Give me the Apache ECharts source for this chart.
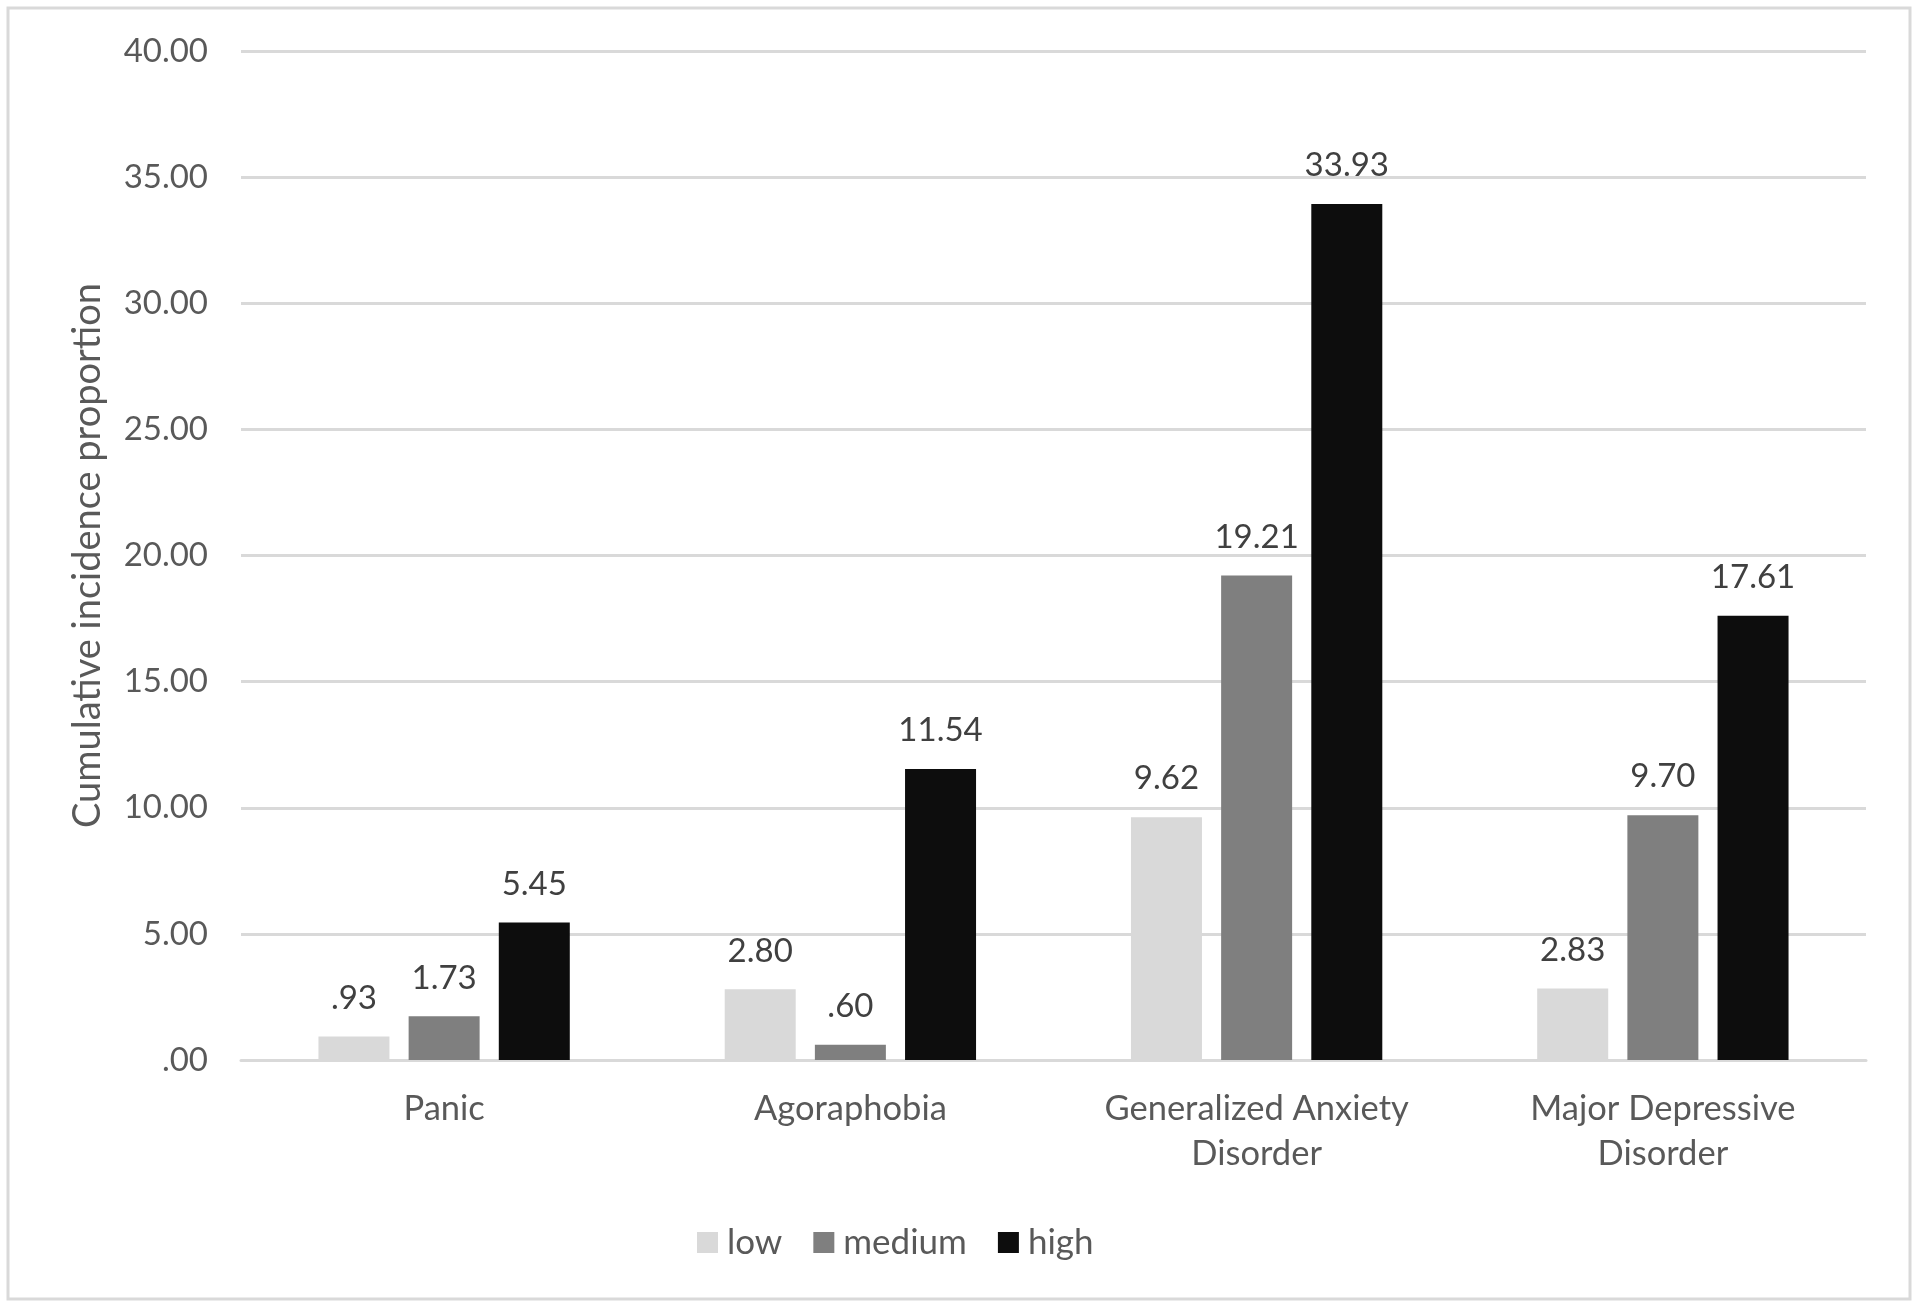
<!DOCTYPE html>
<html>
<head>
<meta charset="utf-8">
<script src="https://cdn.jsdelivr.net/npm/echarts@6/dist/echarts.min.js"></script>
<style>
  html, body { margin: 0; padding: 0; background: #fff; }
  #chart { width: 1920px; height: 1307px; }
</style>
</head>
<body>
<div id="chart"></div>
<script>
// 数据
const categories = ['Panic', 'Agoraphobia', 'Generalized Anxiety\nDisorder', 'Major Depressive\nDisorder'];
const lowValues = [0.93, 2.80, 9.62, 2.83];
const mediumValues = [1.73, 0.60, 19.21, 9.70];
const highValues = [5.45, 11.54, 33.93, 17.61];
const seriesNames = ['low', 'medium', 'high'];
const seriesColors = ['#d9d9d9', '#7f7f7f', '#0d0d0d'];

const FONT = 'Lato';
const TEXT = '#595959';

// 去掉前导0，如 0.93 -> .93
const fmt = (v) => Number(v).toFixed(2).replace(/^0\./, '.');

const chart = echarts.init(document.getElementById('chart'));

const makeSeries = (name, data, color) => ({
    name: name,
    type: 'bar',
    data: data,
    barWidth: 71,
    barGap: '27%',
    itemStyle: { color: color },
    label: {
        show: true,
        position: 'top',
        distance: 22,
        formatter: (p) => fmt(p.value),
        fontFamily: FONT,
        fontSize: 33,
        color: '#404040'
    }
});

chart.setOption({
    animation: false,
    backgroundColor: '#fff',
    textStyle: { fontFamily: FONT },
    graphic: [{
        type: 'rect',
        shape: { x: 8, y: 8, width: 1902, height: 1291 },
        style: { fill: 'none', stroke: '#d9d9d9', lineWidth: 3 }
    }],
    grid: { left: 241, right: 54, top: 51, bottom: 247 },
    legend: {
        left: 692,
        top: 1220,
        itemWidth: 21,
        itemHeight: 21,
        itemGap: 31,
        icon: 'rect',
        textStyle: { fontFamily: FONT, fontSize: 35, color: TEXT, padding: [0, 0, 0, 4] },
        data: seriesNames
    },
    xAxis: {
        type: 'category',
        data: categories,
        axisLine: { lineStyle: { color: '#d9d9d9', width: 3 } },
        axisTick: { show: false },
        axisLabel: {
            fontFamily: FONT,
            fontSize: 34.5,
            color: TEXT,
            margin: 26,
            lineHeight: 45,
            interval: 0
        }
    },
    yAxis: {
        type: 'value',
        min: 0,
        max: 40,
        interval: 5,
        name: 'Cumulative incidence proportion',
        nameLocation: 'middle',
        nameGap: 134,
        nameTextStyle: { fontFamily: FONT, fontSize: 38, color: TEXT },
        axisLine: { show: false },
        axisTick: { show: false },
        splitLine: { lineStyle: { color: '#d9d9d9', width: 3 } },
        axisLabel: {
            fontFamily: FONT,
            fontSize: 33,
            color: TEXT,
            margin: 33,
            formatter: (v) => fmt(v)
        }
    },
    series: [
        makeSeries(seriesNames[0], lowValues, seriesColors[0]),
        makeSeries(seriesNames[1], mediumValues, seriesColors[1]),
        makeSeries(seriesNames[2], highValues, seriesColors[2])
    ]
});
</script>
</body>
</html>
